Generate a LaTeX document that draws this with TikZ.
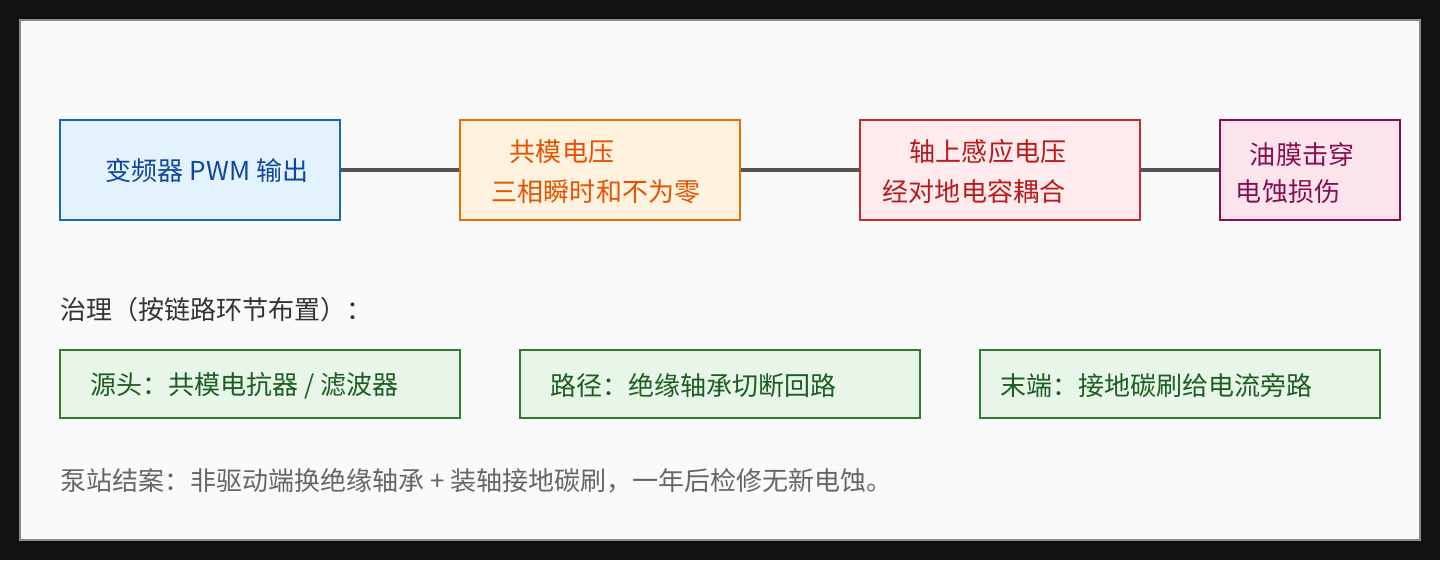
\documentclass[tikz,border=0pt]{standalone}
\usepackage{fontspec}
\setmainfont{Noto Sans CJK SC}
\definecolor{pwmfill}{HTML}{E3F2FD}\definecolor{pwmline}{HTML}{1565C0}\definecolor{pwmtext}{HTML}{0D47A1}
\definecolor{cmfill}{HTML}{FFF3E0}\definecolor{cmline}{HTML}{EF6C00}\definecolor{cmtext}{HTML}{E65100}
\definecolor{shfill}{HTML}{FFEBEE}\definecolor{shline}{HTML}{C62828}\definecolor{shtext}{HTML}{B71C1C}
\definecolor{oilfill}{HTML}{FCE4EC}\definecolor{oilline}{HTML}{880E4F}\definecolor{oiltext}{HTML}{880E4F}
\definecolor{fixfill}{HTML}{E8F5E9}\definecolor{fixline}{HTML}{2E7D32}\definecolor{fixtext}{HTML}{1B5E20}
\tikzset{
  box/.style={draw, line width=1.2pt, minimum height=2.5cm, inner sep=0pt},
  fix/.style={box, draw=fixline, fill=fixfill, minimum width=10cm, minimum height=1.7cm},
  txt/.style={font=\fontsize{18.5}{22}\selectfont, inner sep=0pt},
  link/.style={draw=black!67, line width=3pt}
}
\begin{document}
\begin{tikzpicture}[x=0.025cm, y=-0.025cm]
  \fill[black!93] (0,0) rectangle (1440,560);
  \filldraw[fill=black!2, draw=black!45, line width=1pt] (20,20) rectangle (1420,540);
  % Chain
  \node[box, draw=pwmline, fill=pwmfill, minimum width=7cm] (pwm) at (200,170) {};
  \node[box, draw=cmline, fill=cmfill, minimum width=7cm] (cm) at (600,170) {};
  \node[box, draw=shline, fill=shfill, minimum width=7cm] (shaft) at (1000,170) {};
  \node[box, draw=oilline, fill=oilfill, minimum width=4.5cm] (oil) at (1310,170) {};
  \node[txt, text=pwmtext] (pwmt) at (207,171) {变频器 PWM 输出};
  \node[txt, text=cmtext] (cmt1) at (562,152) {共模电压};
  \node[txt, text=cmtext] (cmt2) at (596,192) {三相瞬时和不为零};
  \node[txt, text=shtext] (sht1) at (988,152) {轴上感应电压};
  \node[txt, text=shtext] (sht2) at (974,192) {经对地电容耦合};
  \node[txt, text=oiltext] (oilt1) at (1302,155) {油膜击穿};
  \node[txt, text=oiltext] (oilt2) at (1288,192) {电蚀损伤};
  \draw[link] (pwm) -- (cm);
  \draw[link] (cm) -- (shaft);
  \draw[link] (shaft) -- (oil);
  % Remedies
  \node[txt, text=black!80, anchor=west] (title) at (60,310) {治理（按链路环节布置）：};
  \node[fix] (src) at (260,384) {};
  \node[fix] (path) at (720,384) {};
  \node[fix] (tail) at (1180,384) {};
  \node[txt, text=fixtext, anchor=west] (srct) at (90,386) {源头：共模电抗器 / 滤波器};
  \node[txt, text=fixtext, anchor=west] (patht) at (550,386) {路径：绝缘轴承切断回路};
  \node[txt, text=fixtext, anchor=west] (tailt) at (1000,386) {末端：接地碳刷给电流旁路};
  \node[txt, text=black!60, anchor=west] (note) at (60,481) {泵站结案：非驱动端换绝缘轴承 + 装轴接地碳刷，一年后检修无新电蚀。};
\end{tikzpicture}
\end{document}
